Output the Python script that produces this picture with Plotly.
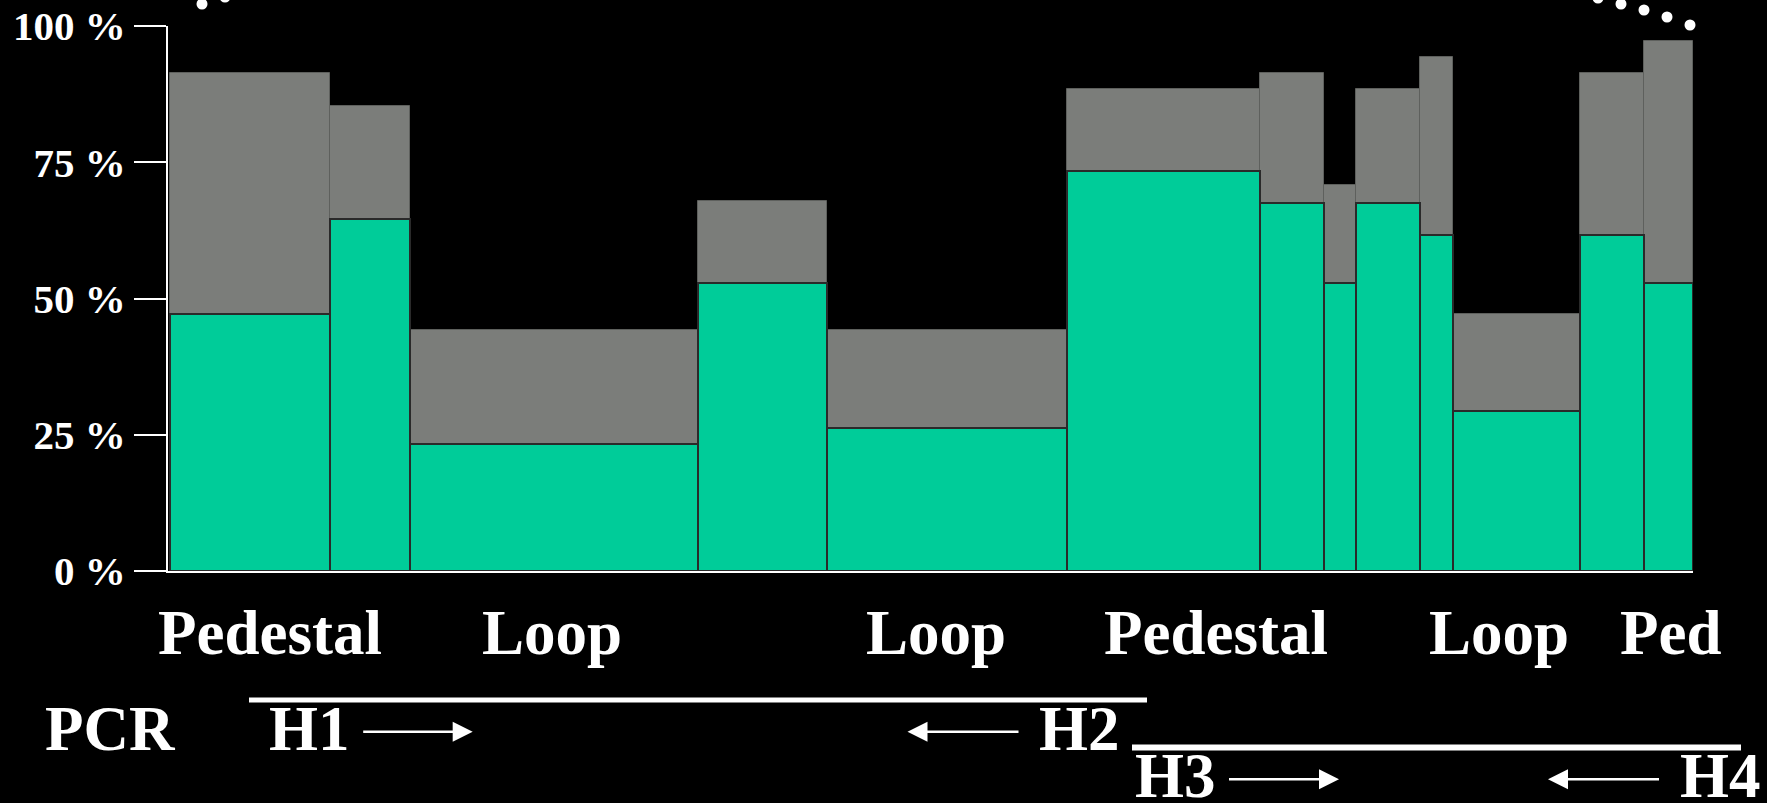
import plotly.graph_objects as go

# ---------------- data ----------------
segment_widths = [160, 80, 288, 129, 240, 193, 64, 32, 64, 33, 127, 64, 49]
green_pct = [47.2, 64.6, 23.3, 52.8, 26.3, 73.4, 67.6, 52.9, 67.6, 61.7, 29.4, 61.6, 52.8]
total_pct = [91.4, 85.4, 44.3, 67.8, 44.3, 88.4, 91.4, 70.8, 88.4, 94.3, 47.2, 91.4, 97.2]
y_tick_vals = [0, 25, 50, 75, 100]
y_tick_text = ["0 %", "25 %", "50 %", "75 %", "100 %"]
region_names = ["Pedestal", "Loop", "Loop", "Pedestal", "Loop", "Ped"]
region_label_x = [100, 382, 766, 1046, 1329, 1500]

# ---------------- derived ----------------
centers = []
acc = 0
for w in segment_widths:
    centers.append(acc + w / 2)
    acc += w
total_len = acc

W, H = 1767, 803
ML, MR, MT, MB = 168, 74, 26, 232
PW = W - ML - MR
PH = H - MT - MB


def px(p):
    return (p - ML) / PW


def py(p):
    return (H - MB - p) / PH


SERIF = "Liberation Serif, Times New Roman, serif"
GREEN = "#00CC99"
GRAY = "#7B7D7A"

fig = go.Figure()
fig.add_trace(go.Bar(
    x=centers, y=total_pct, width=segment_widths,
    marker=dict(color=GRAY, line=dict(color="#5e605d", width=1)),
    hoverinfo="skip", showlegend=False,
))
fig.add_trace(go.Bar(
    x=centers, y=green_pct, width=segment_widths,
    marker=dict(color=GREEN, line=dict(color="#2a2a2a", width=2)),
    hoverinfo="skip", showlegend=False,
))

big = dict(family=SERIF, size=63, color="white", weight="bold")

annotations = []
for name, xv in zip(region_names, region_label_x):
    annotations.append(dict(x=xv, y=py(632.7), xref="x", yref="paper", text=name,
                            showarrow=False, font=big, xanchor="center", yanchor="middle"))

for txt, cx, cy in [("PCR", 110, 729.4), ("H1", 309, 729.4), ("H2", 1079.5, 729.4),
                    ("H3", 1175.5, 775.7), ("H4", 1720.5, 775.7)]:
    annotations.append(dict(x=px(cx), y=py(cy), xref="paper", yref="paper", text=txt,
                            showarrow=False, font=big, xanchor="center", yanchor="middle"))

for tipx, tailx, ay_ in [(472.7, 361.7, 731.7), (907.5, 1020, 731.7),
                         (1339, 1227.5, 779.3), (1548, 1660.5, 779.3)]:
    annotations.append(dict(x=px(tipx), y=py(ay_), xref="paper", yref="paper", text="",
                            showarrow=True, arrowhead=2, arrowsize=1.6, arrowwidth=2.5,
                            arrowcolor="white", ax=tailx - tipx, ay=0,
                            axref="pixel", ayref="pixel", standoff=0, startstandoff=0))

shapes = [
    dict(type="line", xref="paper", yref="paper", x0=px(249), x1=px(1147),
         y0=py(700), y1=py(700), line=dict(color="white", width=5)),
    dict(type="line", xref="paper", yref="paper", x0=px(1132), x1=px(1741),
         y0=py(747.5), y1=py(747.5), line=dict(color="white", width=6)),
]
for cx, cy in [(202, 4), (225, -3), (1598, -2), (1621, 4), (1644, 10), (1667, 17), (1690, 25)]:
    r = 5.5
    shapes.append(dict(type="circle", xref="paper", yref="paper",
                       x0=px(cx - r), x1=px(cx + r), y0=py(cy + r), y1=py(cy - r),
                       fillcolor="white", line=dict(width=0), layer="above"))

fig.update_layout(
    width=W, height=H,
    margin=dict(l=ML, r=MR, t=MT, b=MB, autoexpand=False),
    paper_bgcolor="black", plot_bgcolor="black",
    barmode="overlay", bargap=0,
    annotations=annotations, shapes=shapes,
    xaxis=dict(range=[-2, total_len], showline=True, linecolor="white", linewidth=2,
               showticklabels=False, ticks="", showgrid=False, zeroline=False,
               fixedrange=True, automargin=False),
    yaxis=dict(range=[0, 100], showline=True, linecolor="white", linewidth=2,
               tickvals=y_tick_vals, ticktext=y_tick_text, ticks="outside", ticklen=32,
               tickwidth=2, tickcolor="white", showgrid=False, zeroline=False,
               tickfont=dict(family=SERIF, size=41, color="white", weight="bold"),
               fixedrange=True, automargin=False),
)

fig.write_html(
    "out.html",
    config={"displayModeBar": False},
    post_script="document.body.style.margin='0';document.body.style.padding='0';"
                "document.body.style.background='black';"
                "document.documentElement.style.overflow='hidden';",
)
